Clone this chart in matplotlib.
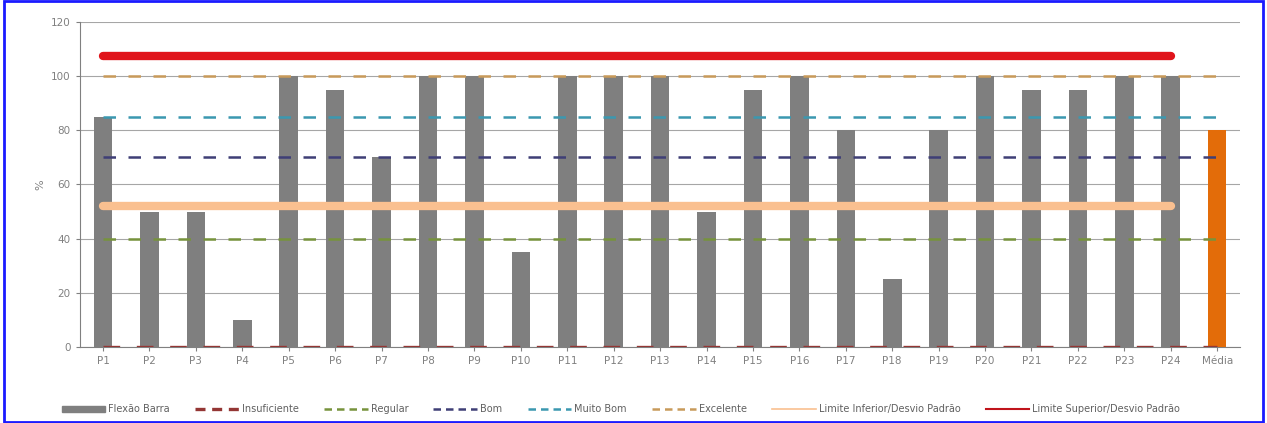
import matplotlib.pyplot as plt
from matplotlib.patches import Rectangle, Patch
from matplotlib.lines import Line2D

cats = ["P" + str(i) for i in range(1, 25)] + ["Média"]
flexao = [85, 50, 50, 10, 100, 95, 70, 100, 100, 35, 100, 100, 100, 50,
          95, 100, 80, 25, 80, 100, 95, 95, 100, 100]
media = 80

insuficiente = 0
regular = 40
bom = 70
muito_bom = 85
excelente = 100
lim_inf = 52
lim_sup = 107.5

fig = plt.figure(figsize=(12.67, 4.23), dpi=100)
ax = fig.add_axes([0.063, 0.18, 0.916, 0.768])

x = list(range(len(cats)))
ax.bar(x[:24], flexao, width=0.4, color="#7f7f7f", zorder=3)
ax.bar(x[24], media, width=0.4, color="#e36c09", zorder=3)

dash = (0, (5, 5))
styles = [
    ("Insuficiente", insuficiente, "#943634", 2.4),
    ("Regular", regular, "#77933c", 1.8),
    ("Bom", bom, "#3f3f76", 1.8),
    ("Muito Bom", muito_bom, "#3b98b0", 1.8),
    ("Excelente", excelente, "#c89a5a", 1.8),
]
for name, val, col, lw in styles:
    ax.plot(x, [val] * 25, color=col, ls=dash, lw=lw, zorder=4)

ax.plot(x[:24], [lim_inf] * 24, color="#fac090", lw=6, solid_capstyle="round", zorder=5)
ax.plot(x[:24], [lim_sup] * 24, color="#e0141b", lw=6, solid_capstyle="round", zorder=5)

ax.set_xlim(-0.5, 24.5)
ax.set_ylim(0, 120)
ax.set_yticks(range(0, 121, 20))
ax.set_xticks(x)
ax.set_xticklabels(cats)
ax.tick_params(labelsize=7.5, colors="#808080", length=3)
ax.grid(axis="y", color="#a6a6a6", lw=0.8, zorder=0)
for s in ["top", "right"]:
    ax.spines[s].set_visible(False)
ax.spines["left"].set_color("#808080")
ax.spines["bottom"].set_color("#808080")
ax.set_ylabel("%", fontsize=8, color="#808080")

handles = [Patch(color="#7f7f7f")]
labels = ["Flexão Barra"]
for name, val, col, lw in styles:
    handles.append(Line2D([], [], color=col, ls=(0, (3, 2)), lw=lw))
    labels.append(name)
handles.append(Line2D([], [], color="#fac090", lw=1.2))
labels.append("Limite Inferior/Desvio Padrão")
handles.append(Line2D([], [], color="#c0141b", lw=1.5))
labels.append("Limite Superior/Desvio Padrão")

fig.legend(handles, labels, loc="lower center", bbox_to_anchor=(0.49, 0.0), ncol=8, frameon=False,
           fontsize=7, labelcolor="#606060", handlelength=4.5, handleheight=0.5,
           columnspacing=2.6, handletextpad=0.3)

fig.add_artist(Rectangle((0.003, 0.003), 0.994, 0.994, transform=fig.transFigure,
                         fill=False, edgecolor="#1a1aff", lw=2))

fig.savefig("out.png", dpi=100)
